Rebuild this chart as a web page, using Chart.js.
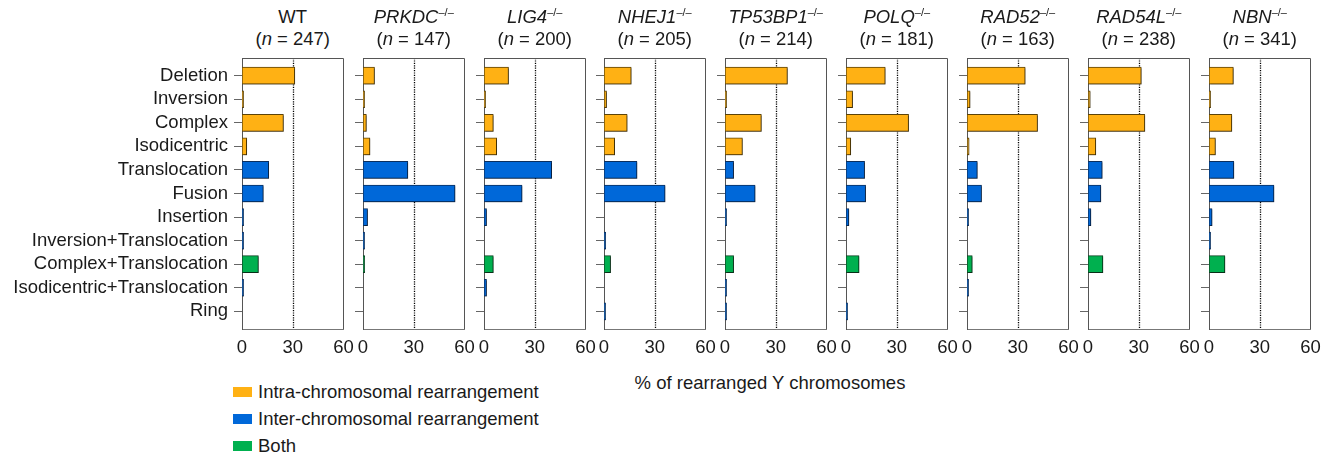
<!DOCTYPE html>
<html>
<head>
<meta charset="utf-8">
<script src="https://cdn.jsdelivr.net/npm/chart.js@4.4.1/dist/chart.umd.min.js"></script>
<style>
  body { margin: 0; background: #fff; font-family: "Liberation Sans", Arial, sans-serif; color: #1a1a1a; }
  #wrap { position: relative; width: 1331px; height: 458px; overflow: hidden; }
  #wrap canvas { position: absolute; }
  .ttl { position: absolute; top: 6px; width: 160px; text-align: center; font-size: 18.5px; line-height: 22px; white-space: nowrap; }
  .ttl sup { font-size: 11px; vertical-align: 7px; line-height: 0; }
  .leg { position: absolute; left: 233px; font-size: 18.5px; line-height: 22px; white-space: nowrap; }
  .leg span { position: absolute; left: 0; top: 6px; width: 19px; height: 10px; }
  .leg b { font-weight: normal; position: absolute; left: 25px; top: 0; }
  #xtitle { position: absolute; left: 570px; width: 400px; top: 372px; text-align: center; font-size: 18.5px; line-height: 22px; }
</style>
</head>
<body>
<div id="wrap"></div>
<script>
// rows of every panel, top to bottom
const categories = ['Deletion', 'Inversion', 'Complex', 'Isodicentric', 'Translocation', 'Fusion',
  'Insertion', 'Inversion+Translocation', 'Complex+Translocation', 'Isodicentric+Translocation', 'Ring'];
const categoryClass = ['intra', 'intra', 'intra', 'intra', 'inter', 'inter', 'inter', 'inter', 'both', 'inter', 'inter'];

const genotypes = ['WT', 'PRKDC', 'LIG4', 'NHEJ1', 'TP53BP1', 'POLQ', 'RAD52', 'RAD54L', 'NBN'];
const nValues = [247, 147, 200, 205, 214, 181, 163, 238, 341];

// % of rearranged Y chromosomes, same order as categories
const wt      = [31.2, 0.4, 24.5, 2.8, 15.8, 12.6, 0.4, 0.4, 9.7, 0.4, 0];
const prkdc   = [6.8, 0.7, 2.0, 4.1, 26.5, 54.4, 2.7, 0.7, 1.0, 0, 0];
const lig4    = [14.5, 0.5, 5.5, 7.5, 40.0, 22.5, 1.5, 0, 5.5, 1.5, 0];
const nhej1   = [16.1, 1.5, 13.7, 6.3, 19.5, 36.1, 0, 1.0, 3.9, 0, 0.5];
const tp53bp1 = [36.9, 0.9, 21.5, 10.3, 5.1, 17.8, 0.5, 0, 5.1, 0.5, 0.9];
const polq    = [23.2, 3.9, 37.0, 2.8, 11.0, 11.6, 1.7, 0, 7.7, 0, 0.6];
const rad52   = [34.4, 1.8, 41.7, 1.2, 6.1, 8.6, 0.6, 0, 3.1, 0.6, 0];
const rad54l  = [31.5, 1.3, 33.6, 4.6, 8.4, 7.6, 1.7, 0, 8.8, 0, 0];
const nbn     = [14.4, 0.6, 13.5, 3.8, 14.7, 38.4, 1.8, 0.6, 9.4, 0, 0];
const panelValues = [wt, prkdc, lig4, nhej1, tp53bp1, polq, rad52, rad54l, nbn];

const xTicks = [0, 30, 60];
const refValue = 30;
const xTitle = '% of rearranged Y chromosomes';
const legendClasses = ['intra', 'inter', 'both'];
const legendLabels = ['Intra-chromosomal rearrangement', 'Inter-chromosomal rearrangement', 'Both'];

const fills = { intra: '#FFB114', inter: '#0068D9', both: '#00B04F' };
const edges = { intra: '#5c4308', inter: '#0b2f5e', both: '#0c4422' };

Chart.defaults.font.family = "'Liberation Sans', Arial, sans-serif";
Chart.defaults.font.size = 18.5;
Chart.defaults.color = '#1a1a1a';

const wrap = document.getElementById('wrap');
const plotW = 101.5, plotTop = 58, plotBottom = 329, canvasTop = 40;

// frame on top/right + dotted reference line + soft shadow on bars
const framePlugin = {
  id: 'frame',
  beforeDatasetsDraw(chart) {
    const { ctx, chartArea: a } = chart;
    const x = Math.round(chart.scales.x.getPixelForValue(refValue)) + 0.5;
    ctx.save();
    ctx.strokeStyle = '#000';
    ctx.lineWidth = 1.3;
    ctx.setLineDash([1.2, 1.2]);
    ctx.beginPath();
    ctx.moveTo(x, a.top);
    ctx.lineTo(x, a.bottom);
    ctx.stroke();
    ctx.restore();
    ctx.save();
    ctx.shadowColor = 'rgba(0,0,0,0.3)';
    ctx.shadowOffsetX = 1;
    ctx.shadowOffsetY = 1;
  },
  afterDatasetsDraw(chart) {
    const { ctx, chartArea: a } = chart;
    ctx.restore();
    ctx.save();
    ctx.strokeStyle = '#555';
    ctx.lineWidth = 1;
    const t = Math.round(a.top) + 0.5, r = Math.round(a.right) - 0.5;
    ctx.beginPath();
    ctx.moveTo(a.left, t);
    ctx.lineTo(r, t);
    ctx.lineTo(r, a.bottom);
    ctx.stroke();
    ctx.restore();
  }
};

genotypes.forEach((g, i) => {
  const x0 = Math.round(241.7 + i * 120.9);
  const L = i === 0 ? x0 : 20;
  const R = 15.5;

  const ttl = document.createElement('div');
  ttl.className = 'ttl';
  ttl.style.left = (x0 + plotW / 2 - 80) + 'px';
  ttl.innerHTML = (i === 0 ? g : '<i>' + g + '</i><sup>\u2013/\u2013</sup>') +
    '<br>(<i>n</i> = ' + nValues[i] + ')';
  wrap.appendChild(ttl);

  const cv = document.createElement('canvas');
  const cw = L + plotW + R;
  const ch = plotBottom - canvasTop + 40;
  cv.style.left = (x0 - L) + 'px';
  cv.style.top = canvasTop + 'px';
  cv.style.width = cw + 'px';
  cv.style.height = ch + 'px';
  cv.width = cw; cv.height = ch;
  wrap.appendChild(cv);

  const vals = panelValues[i];
  new Chart(cv, {
    type: 'bar',
    data: {
      datasets: [{
        // zero rows draw nothing; tiny non-zero rows keep a visible sliver
        data: vals.map((v, k) => ({ x: v > 0 ? v : null, y: k })),
        backgroundColor: categoryClass.map(c => fills[c]),
        borderColor: categoryClass.map(c => edges[c]),
        borderWidth: 1,
        borderSkipped: false,
        minBarLength: 1.6,
        barThickness: 17
      }]
    },
    options: {
      indexAxis: 'y',
      responsive: false,
      animation: false,
      layout: { padding: { top: plotTop - canvasTop, right: R, left: 0, bottom: 0 } },
      plugins: { legend: { display: false }, tooltip: { enabled: false } },
      scales: {
        x: {
          type: 'linear', min: xTicks[0], max: xTicks[xTicks.length - 1],
          afterBuildTicks: s => { s.ticks = xTicks.map(v => ({ value: v })); },
          ticks: { padding: 8, maxRotation: 0 },
          grid: { display: false, drawTicks: false },
          border: { display: true, color: '#777', width: 1 },
          afterFit: s => { s.height = 40; s.paddingLeft = 0; s.paddingRight = 0; }
        },
        y: {
          type: 'linear', reverse: true, offset: false,
          min: -0.75, max: categories.length - 0.25,
          afterBuildTicks: s => { s.ticks = categories.map((c, k) => ({ value: k })); },
          ticks: {
            display: i === 0, padding: 6, autoSkip: false,
            callback: v => categories[v]
          },
          grid: { display: true, offset: false, drawOnChartArea: false, drawTicks: true, tickLength: 8, color: '#666' },
          border: { display: true, color: '#555', width: 1 },
          afterFit: s => { s.width = L; s.paddingTop = 0; s.paddingBottom = 0; }
        }
      }
    },
    plugins: [framePlugin]
  });
});

const xt = document.createElement('div');
xt.id = 'xtitle';
xt.textContent = xTitle;
wrap.appendChild(xt);

legendLabels.forEach((lab, k) => {
  const d = document.createElement('div');
  d.className = 'leg';
  d.style.top = (381 + k * 27) + 'px';
  d.innerHTML = '<span style="background:' + fills[legendClasses[k]] + '"></span><b>' + lab + '</b>';
  wrap.appendChild(d);
});
</script>
</body>
</html>
